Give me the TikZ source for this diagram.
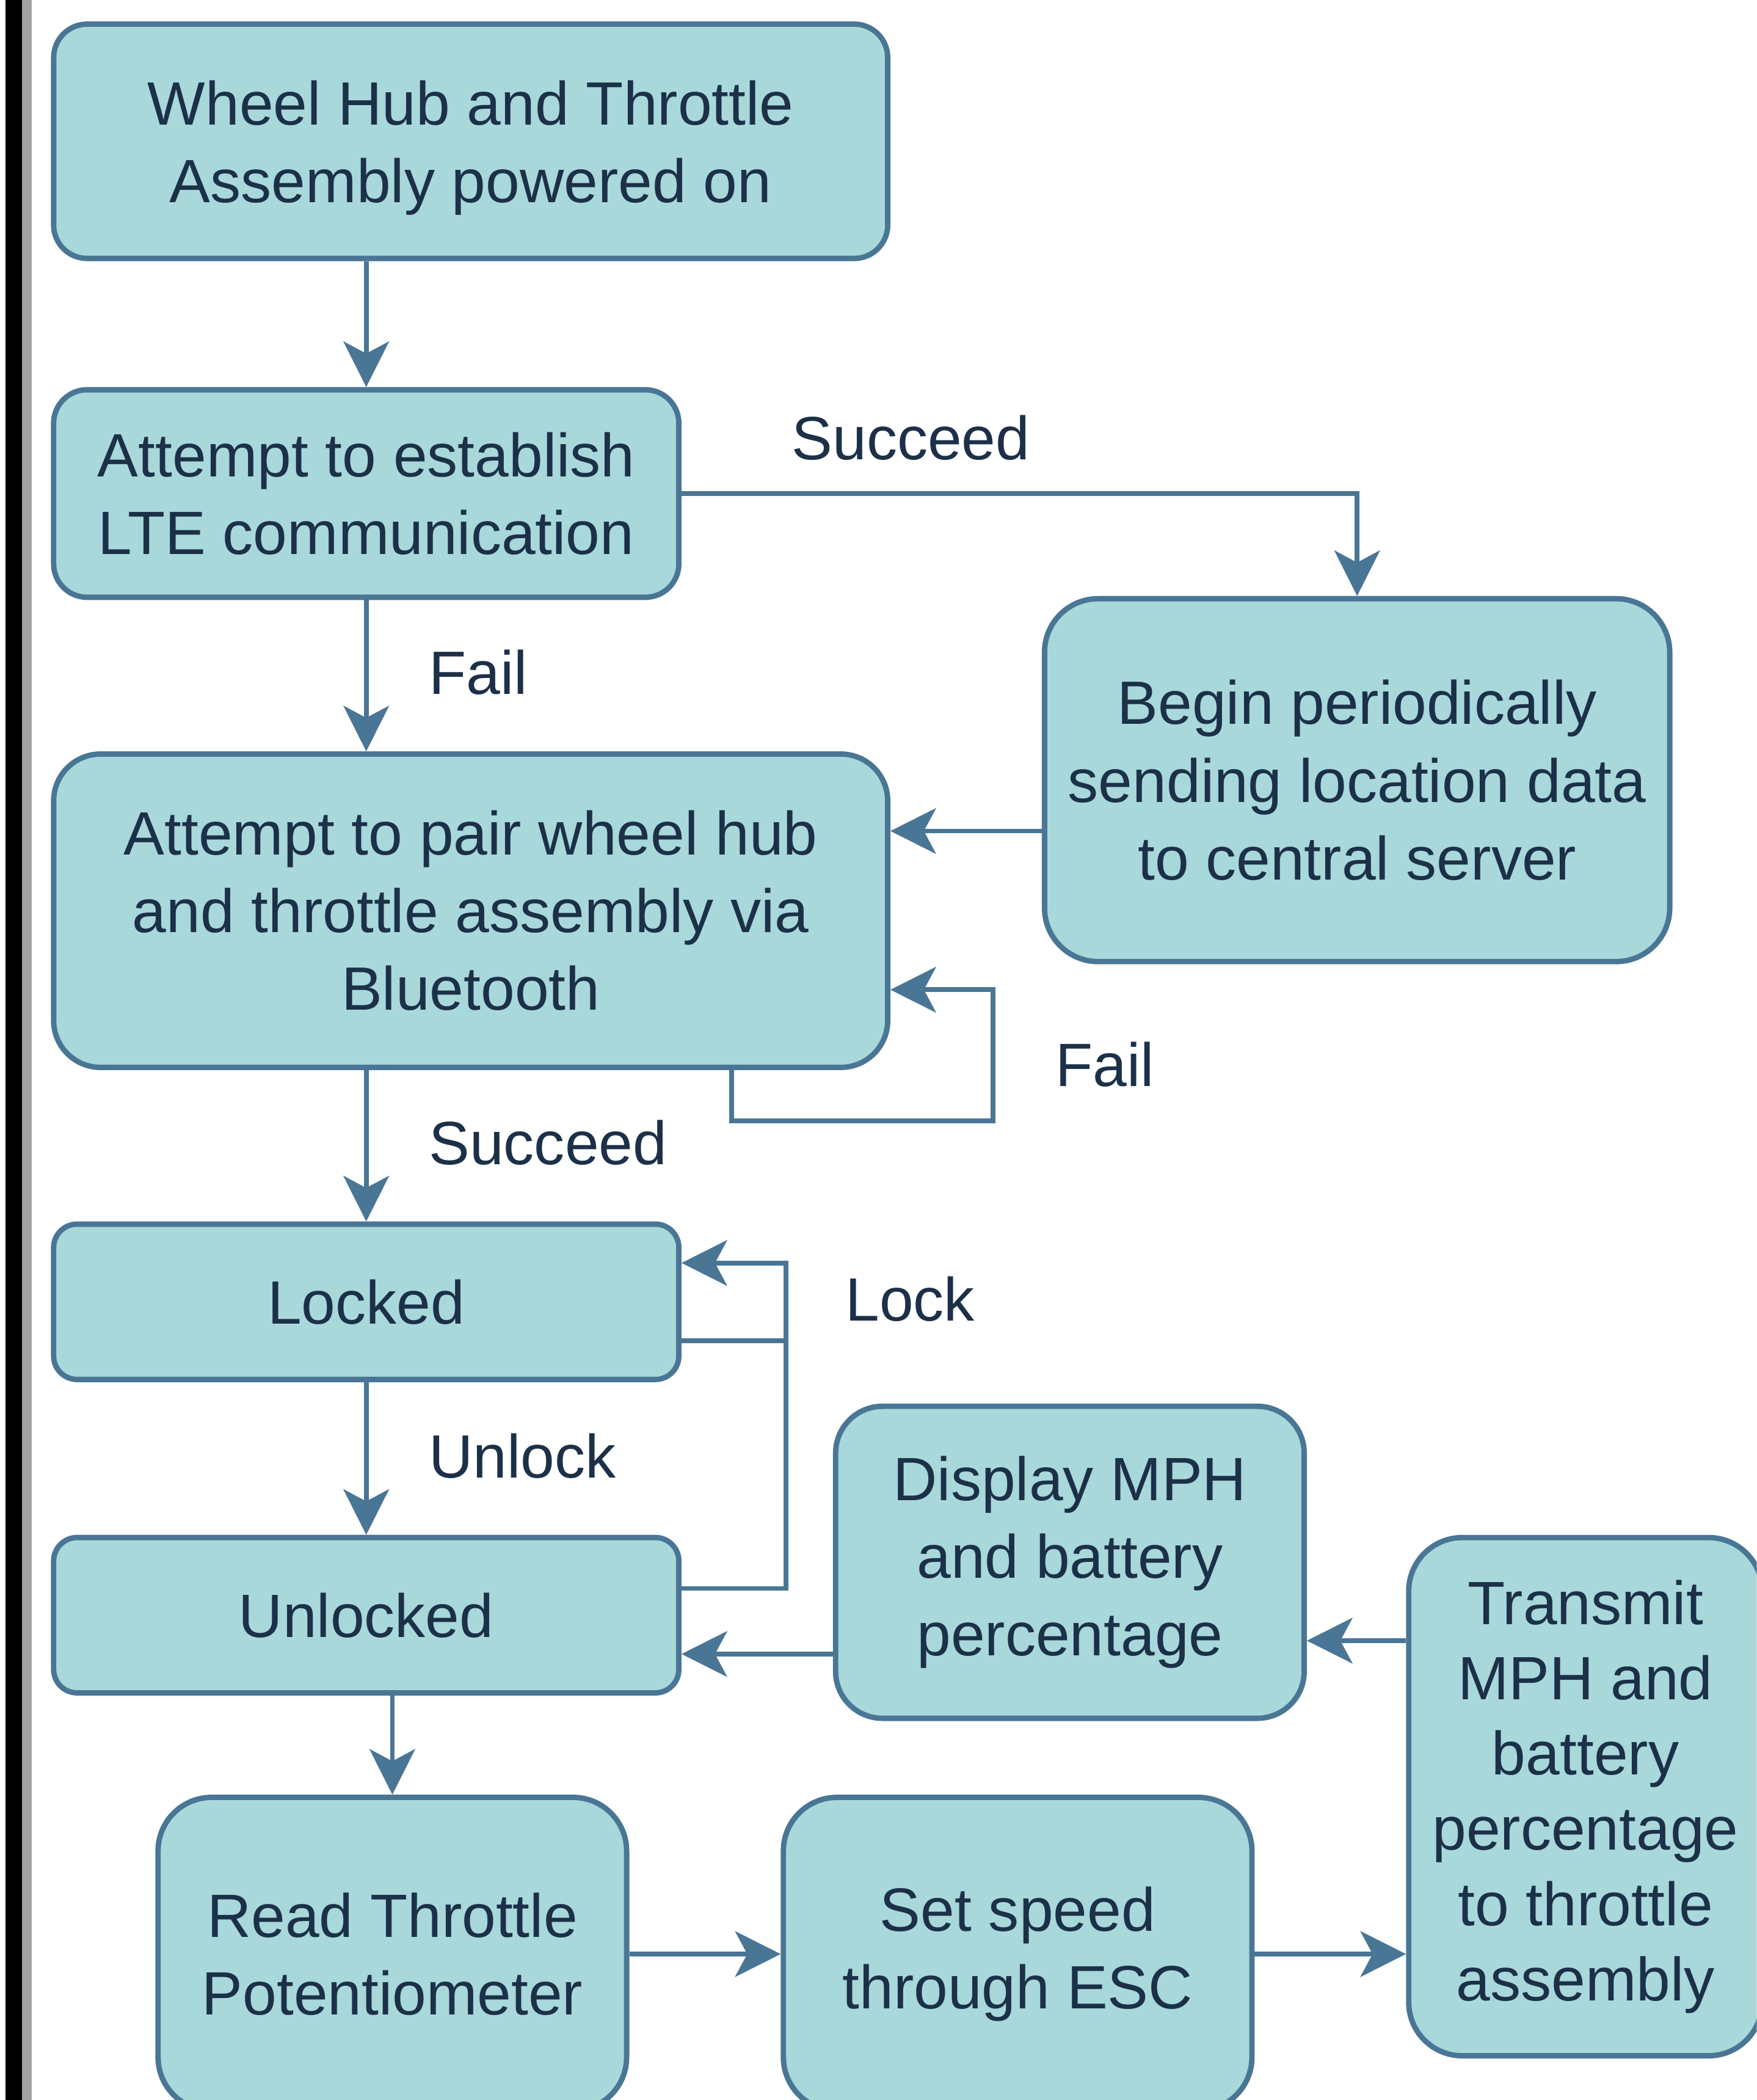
\documentclass[tikz,border=0pt]{standalone}
\usepackage{fontspec}
\setmainfont{Liberation Sans}
\usetikzlibrary{arrows.meta}
\definecolor{boxfill}{RGB}{168,216,218}
\definecolor{boxline}{RGB}{74,118,150}
\definecolor{inkblue}{RGB}{28,48,72}
\newcommand{\chartfont}{\fontsize{26}{33}\selectfont}

\begin{document}
\begin{tikzpicture}[x=0.02cm,y=-0.02cm,>={Stealth[length=0.68cm,width=0.68cm,inset=0.18cm]},
  stagebox/.style={draw=boxline,fill=boxfill,line width=2.3pt,rounded corners=#1,
    align=center,text=inkblue,font=\chartfont,inner sep=0pt},
  stagebox/.default=0.5cm,
  flow/.style={->,draw=boxline,line width=2pt},
  tag/.style={anchor=west,inner sep=0pt,text=inkblue,font=\chartfont}]
\useasboundingbox (0,0) rectangle (1312,1568);
\clip (0,0) rectangle (1312,1568);
\fill[black] (4,0) rectangle (16.5,1568);
\fill[black!37] (16.5,0) rectangle (23.5,1568);
\node[stagebox,minimum width=12.46cm,minimum height=3.5cm,
  label={[yshift=-0.1cm,align=center,text=inkblue,font=\chartfont]center:Wheel Hub and Throttle\\Assembly powered on}] (poweron) at (351.5,105.5) {};
\node[stagebox,minimum width=9.34cm,minimum height=3.1cm] (lte) at (273.5,368.5) {Attempt to establish\\LTE communication};
\node[stagebox=0.7cm,minimum width=12.46cm,minimum height=4.68cm] (pair) at (351.5,680) {Attempt to pair wheel hub\\and throttle assembly via\\Bluetooth};
\node[stagebox=0.8cm,minimum width=9.34cm,minimum height=5.42cm] (report) at (1013.5,582.5) {Begin periodically\\sending location data\\to central server};
\node[stagebox=0.35cm,minimum width=9.34cm,minimum height=2.32cm] (locked) at (273.5,972) {Locked};
\node[stagebox=0.35cm,minimum width=9.34cm,minimum height=2.32cm] (unlocked) at (273.5,1206) {Unlocked};
\node[stagebox=0.7cm,minimum width=7cm,minimum height=4.66cm] (display) at (799,1166.5) {Display MPH\\and battery\\percentage};
\node[stagebox=0.8cm,minimum width=5.28cm,minimum height=7.74cm,font=\fontsize{26}{32}\selectfont] (transmit) at (1184,1341.5) {Transmit\\MPH and\\battery\\percentage\\to throttle\\assembly};
\node[stagebox=0.8cm,minimum width=7cm,minimum height=4.68cm] (readpot) at (293,1459) {Read Throttle\\Potentiometer};
\node[stagebox=0.8cm,minimum width=7cm,minimum height=4.68cm] (setspeed) at (760,1459) {Set speed\\through ESC};
\draw[flow] (poweron.south -| lte.north) -- (lte.north);
\draw[flow] (lte.east) -| (report.north);
\draw[flow] (lte.south) -- (lte.south |- pair.north);
\draw[flow] ([yshift=-0.76cm]report.west) -- ([yshift=-0.76cm]report.west -| pair.east);
\draw[flow] ([xshift=3.9cm]pair.south) -- ++(0,38) -- ++(195,0) |- ([yshift=-1.18cm]pair.east);
\draw[flow] (pair.south -| locked.north) -- (locked.north);
\draw[flow] ([yshift=0.4cm]unlocked.east) -- ++(78,0) |- ([yshift=0.58cm]locked.east);
\draw[boxline,line width=2pt] ([yshift=-0.58cm]locked.east) -- ++(78,0);
\draw[flow] (locked.south) -- (unlocked.north);
\draw[flow] ([yshift=-1.37cm]display.west) -- ([yshift=-1.37cm]display.west -| unlocked.east);
\draw[flow] ([yshift=2.33cm]transmit.west) -- ([yshift=2.33cm]transmit.west -| display.east);
\draw[flow] (unlocked.south -| readpot.north) -- (readpot.north);
\draw[flow] (readpot.east) -- (setspeed.west);
\draw[flow] (setspeed.east) -- (setspeed.east -| transmit.west);
\node[tag] (ltegood) at (591,327) {Succeed};
\node[tag] (ltebad) at (320,502) {Fail};
\node[tag] (pairbad) at (788,795) {Fail};
\node[tag] (pairgood) at (320,853) {Succeed};
\node[tag] (lockcmd) at (631,970) {Lock};
\node[tag] (unlockcmd) at (320,1087) {Unlock};
\end{tikzpicture}
\end{document}
